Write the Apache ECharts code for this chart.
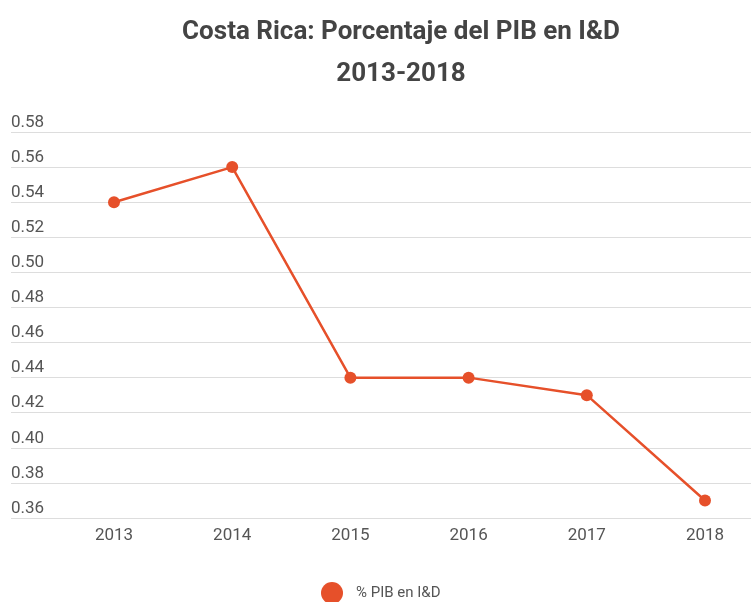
<!DOCTYPE html>
<html>
<head>
    <meta charset="utf-8">
    <title>ECharts</title>
    <script src="https://cdn.jsdelivr.net/npm/echarts@6/dist/echarts.min.js"></script>
    <style type="text/css">
        html, body {
            height: 100%;
            margin: 0;
            background: #fff;
        }
    </style>
</head>
<body>
<div id="main" style="width: 751px;height:602px;"></div>
<script type="text/javascript">
    var years = ['2013', '2014', '2015', '2016', '2017', '2018'];
    var pibID = [0.54, 0.56, 0.44, 0.44, 0.43, 0.37];
    var seriesName = '% PIB en I&D';

    var myChart = echarts.init(document.getElementById('main'), null, {renderer: 'canvas'});

    var yBase = {
        type: 'value',
        min: 0.36,
        max: 0.58,
        interval: 0.02
    };

    var option = {
        backgroundColor: '#fff',
        textStyle: {fontFamily: 'Roboto'},
        title: {
            text: 'Costa Rica: Porcentaje del PIB en I&D\n2013-2018',
            left: 396,
            top: 6,
            textAlign: 'center',
            textStyle: {
                fontFamily: 'Roboto',
                fontSize: 26,
                fontWeight: 'bold',
                color: '#444',
                lineHeight: 42
            }
        },
        legend: {
            data: [seriesName],
            left: 316,
            top: 577,
            icon: 'circle',
            itemWidth: 22,
            itemHeight: 22,
            textStyle: {fontSize: 15, color: '#555', padding: [0, 0, 0, 8]}
        },
        grid: [
            {left: 11, right: 0, top: 132, bottom: 84},
            {left: 114, right: 46, top: 132, bottom: 84}
        ],
        xAxis: [
            {gridIndex: 0, type: 'category', data: years, show: false},
            {
                gridIndex: 1,
                type: 'category',
                data: years,
                boundaryGap: false,
                axisLine: {show: false},
                axisTick: {show: false},
                axisLabel: {margin: 9, fontSize: 17, color: '#555'}
            }
        ],
        yAxis: [
            Object.assign({}, yBase, {
                gridIndex: 0,
                axisLine: {show: false},
                axisTick: {show: false},
                splitLine: {lineStyle: {color: '#ddd', width: 1}},
                axisLabel: {
                    inside: true,
                    margin: 0,
                    align: 'left',
                    verticalAlign: 'bottom',
                    padding: [0, 0, 1, 0],
                    fontSize: 17,
                    color: '#555',
                    formatter: function (v) { return v.toFixed(2); }
                }
            }),
            Object.assign({}, yBase, {gridIndex: 1, show: false, splitLine: {show: false}})
        ],
        series: [{
            name: seriesName,
            type: 'line',
            xAxisIndex: 1,
            yAxisIndex: 1,
            data: pibID,
            symbol: 'circle',
            symbolSize: 12,
            itemStyle: {color: '#e6502a'},
            lineStyle: {color: '#e6502a', width: 2.5}
        }]
    };

    myChart.setOption(option);
</script>
</body>
</html>
